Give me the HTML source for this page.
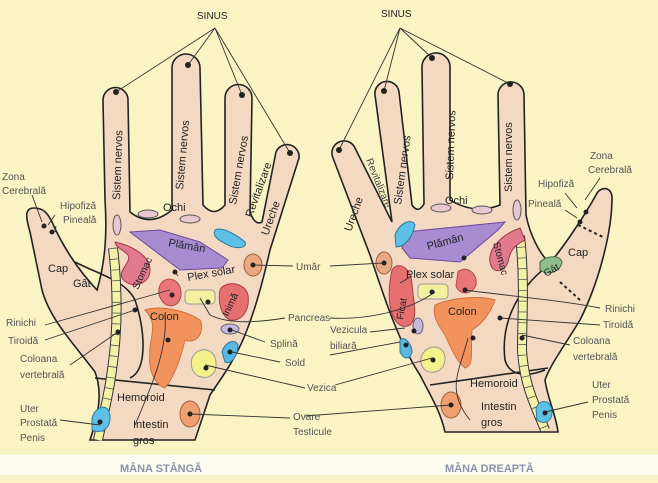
<!DOCTYPE html>
<html><head><meta charset="utf-8"><style>
html,body{margin:0;padding:0;background:#faf3c4;}
svg{display:block}
text{font-family:"Liberation Sans",sans-serif;}
</style></head><body>
<svg width="658" height="483" viewBox="0 0 658 483" xmlns="http://www.w3.org/2000/svg">
<rect width="658" height="483" fill="#faf3c4"/>
<rect x="0" y="455" width="658" height="20" fill="#fdfcf2"/>

<!-- LEFT HAND -->
<path d="M90,440 C100,410 102,390 95,372 C75,345 50,320 42,290 L30,232 C26,218 24,208 34,208 C44,208 48,214 52,222 C62,245 78,270 97,290 C106,260 107,230 105,200 L103,100 A12.5,12.5 0 0 1 128,100 L130,212 Q150,228 172,210 L172,68 A14,14 0 0 1 200,68 L203,205 Q214,218 225,205 L225,98 A13.5,13.5 0 0 1 252,98 L250,212 Q255,226 262,222 L276,152 A12,12 0 0 1 299,158 L270,250 C262,285 255,310 245,335 C235,360 220,380 210,395 L195,440 Z" fill="#f4d9c2" stroke="#222" stroke-width="1.6"/>
<path d="M75,262 C100,275 125,280 135,300 C145,330 148,370 130,378" fill="none" stroke="#222" stroke-width="1.6"/>
<path d="M95,378 L215,390" fill="none" stroke="#222" stroke-width="1.6"/>
<path d="M113,248 C118,290 118,330 112,370 C108,400 102,420 98,440" fill="none" stroke="#333" stroke-width="10"/>
<path d="M113,248 C118,290 118,330 112,370 C108,400 102,420 98,440" fill="none" stroke="#f3f1a8" stroke-width="8"/>
<path d="M113,248 C118,290 118,330 112,370 C108,400 102,420 98,440" fill="none" stroke="#555" stroke-width="8" stroke-dasharray="0.8 10"/>
<path d="M130,232 L160,230 L200,242 L228,260 L222,268 L180,270 Z" fill="#a98bd2" stroke="#6a4a9a"/>
<path d="M115,242 C130,245 150,255 150,270 C150,285 130,290 122,278 C118,270 132,262 128,255 C124,250 116,248 115,242Z" fill="#e07a8c" stroke="#a03a4a"/>
<path d="M160,285 C165,275 180,278 181,292 C182,305 170,310 163,302 C158,296 158,290 160,285Z" fill="#e8757a" stroke="#b04a4a"/>
<rect x="185" y="290" width="30" height="14" rx="4" fill="#f4f0a0" stroke="#999"/>
<path d="M220,290 C225,280 245,282 248,295 C250,310 242,322 230,320 C220,315 218,300 220,290Z" fill="#e67070" stroke="#a04040"/>
<path d="M145,310 C160,305 185,310 200,320 C205,330 198,345 185,340 C180,360 175,375 165,388 C155,385 148,370 150,355 C148,340 160,325 145,310Z" fill="#f2935e" stroke="#d07040"/>
<ellipse cx="230" cy="329" rx="9" ry="5" fill="#c8b8e0" stroke="#666"/>
<path d="M222,352 C225,342 235,338 238,345 C238,355 232,365 225,362Z" fill="#5ab8e0" stroke="#2a7aa0"/>
<path d="M192,358 C198,345 215,348 216,362 C217,375 208,380 198,376 C192,372 190,365 192,358Z" fill="#f4f08a" stroke="#999"/>
<path d="M215,230 C222,226 238,236 245,242 C248,248 236,250 226,244 C218,240 212,236 215,230Z" fill="#5ec0e6" stroke="#2a7aa0"/>
<ellipse cx="253" cy="265" rx="9" ry="11" fill="#e8a880" stroke="#a06040"/>
<ellipse cx="190" cy="414" rx="10" ry="13" fill="#eea070" stroke="#a06040"/>
<path d="M92,418 C96,405 110,402 110,418 C110,430 100,434 92,430Z" fill="#5ec0e6" stroke="#2a7aa0"/>
<ellipse cx="148" cy="214" rx="10" ry="4" fill="#e8c8d0" stroke="#555"/>
<ellipse cx="190" cy="219" rx="10" ry="4" fill="#e8c8d0" stroke="#555"/>
<ellipse cx="117" cy="225" rx="4" ry="10" fill="#e8c8d0" stroke="#555"/>

<!-- RIGHT HAND -->
<path d="M445,432 C440,410 430,395 420,375 C400,345 385,300 370,255 L333,158 A12,12 0 0 1 355,148 L392,222 L375,95 A12,12 0 0 1 399,92 L412,205 Q418,214 424,204 L422,68 A14,14 0 0 1 450,66 L450,200 Q475,215 500,205 L498,95 A13,13 0 0 1 524,95 L526,215 C530,235 540,255 550,263 C565,245 585,215 596,195 C600,186 612,186 612,198 C612,230 600,280 580,320 C565,345 550,365 545,380 C548,400 556,415 558,432 Z" fill="#f4d9c2" stroke="#222" stroke-width="1.6"/>
<path d="M553,262 C520,285 500,320 505,360 C510,378 530,376 545,370" fill="none" stroke="#222" stroke-width="1.6"/>
<path d="M430,385 L548,368" fill="none" stroke="#222" stroke-width="1.6"/>
<path d="M578,225 L605,238 M560,282 L580,300" fill="none" stroke="#222" stroke-width="2" stroke-dasharray="3 3"/>
<path d="M520,236 C525,280 522,320 522,350 C524,385 535,405 545,430" fill="none" stroke="#333" stroke-width="10"/>
<path d="M520,236 C525,280 522,320 522,350 C524,385 535,405 545,430" fill="none" stroke="#f3f1a8" stroke-width="8"/>
<path d="M520,236 C525,280 522,320 522,350 C524,385 535,405 545,430" fill="none" stroke="#555" stroke-width="8" stroke-dasharray="0.8 10"/>
<path d="M405,232 L505,222 L498,230 L460,262 L410,258 L402,248Z" fill="#a98bd2" stroke="#6a4a9a"/>
<path d="M520,228 C500,235 488,250 490,262 C492,275 505,272 508,262 C510,250 515,245 525,240Z" fill="#e07a8c" stroke="#a03a4a"/>
<path d="M458,272 C465,265 478,272 476,285 C472,295 460,296 456,286Z" fill="#e8757a" stroke="#b04a4a"/>
<rect x="418" y="284" width="30" height="15" rx="4" fill="#f4f0a0" stroke="#999"/>
<path d="M392,270 C398,260 412,268 412,285 C414,305 418,318 410,325 C400,330 392,320 390,305 C388,290 390,280 392,270Z" fill="#e67070" stroke="#a04040"/>
<path d="M435,305 C450,298 480,295 495,300 C490,315 480,325 472,330 C470,350 475,365 465,368 C455,360 450,345 445,335 C438,325 432,315 435,305Z" fill="#f2935e" stroke="#d07040"/>
<ellipse cx="418" cy="326" rx="5" ry="8" fill="#c8b8e0" stroke="#666"/>
<path d="M400,340 C405,335 412,345 412,352 C410,360 404,360 400,352Z" fill="#5ab8e0" stroke="#2a7aa0"/>
<path d="M422,355 C428,343 445,345 445,358 C445,372 432,375 425,370 C420,365 420,360 422,355Z" fill="#f4f08a" stroke="#999"/>
<path d="M395,235 C400,222 412,218 415,225 C412,238 405,247 396,247Z" fill="#5ec0e6" stroke="#2a7aa0"/>
<ellipse cx="384" cy="263" rx="8" ry="11" fill="#e8a880" stroke="#a06040"/>
<ellipse cx="451" cy="405" rx="10" ry="13" fill="#eea070" stroke="#a06040"/>
<path d="M536,408 C540,398 552,400 552,412 C552,422 544,425 537,420Z" fill="#5ec0e6" stroke="#2a7aa0"/>
<path d="M540,262 C548,255 560,255 562,262 C560,272 548,276 540,270Z" fill="#8fbf8f" stroke="#446644"/>
<ellipse cx="441" cy="208" rx="10" ry="4" fill="#e8c8d0" stroke="#555"/>
<ellipse cx="482" cy="210" rx="10" ry="4" fill="#e8c8d0" stroke="#555"/>
<ellipse cx="517" cy="210" rx="4" ry="10" fill="#e8c8d0" stroke="#555"/>

<g stroke="#333" stroke-width="0.9" fill="none">
<path d="M215,28 L116,92 M215,28 L188,65 M215,28 L242,95 M215,28 L290,153"/>
<path d="M400,28 L339,150 M400,28 L384,91 M400,28 L432,58 M400,28 L510,84"/>
<path d="M253,265 L293,266 M175,272 L178,276"/>
<path d="M170,290 L45,325 M135,310 L45,340 M118,332 L70,365 M100,425 L60,420"/>
<path d="M200,298 L210,315 C230,325 260,322 285,318"/>
<path d="M232,330 L265,342 M232,352 L280,362 M205,365 L305,388 M190,414 L290,418"/>
<path d="M165,315 C168,350 150,390 135,425"/>
<path d="M32,195 L42,222 M55,215 L48,225 M56,226 L55,232"/>
<path d="M384,263 L330,266 M412,276 L400,283 M330,318 C370,320 410,310 435,292 M405,328 L370,332 M400,342 L330,355 M432,358 L335,385 M451,405 L305,416"/>
<path d="M465,290 C500,295 560,300 600,308 M500,318 L600,325 M522,335 L570,345 M545,412 L588,402 M468,338 C460,370 445,390 470,420"/>
<path d="M600,178 L585,200 M565,193 L577,208 M565,210 L577,218"/>
</g>
<g fill="#222">
<circle cx="116" cy="92" r="3"/><circle cx="188" cy="65" r="3"/><circle cx="242" cy="95" r="3"/><circle cx="290" cy="153" r="3"/>
<circle cx="339" cy="150" r="3"/><circle cx="384" cy="91" r="3"/><circle cx="432" cy="58" r="3"/><circle cx="510" cy="84" r="3"/>
<circle cx="44" cy="226" r="2.5"/><circle cx="52" cy="232" r="2.5"/><circle cx="586" cy="212" r="2.5"/><circle cx="580" cy="222" r="2.5"/>
<circle cx="175" cy="272" r="2.5"/><circle cx="172" cy="295" r="2.5"/><circle cx="208" cy="302" r="2.5"/><circle cx="253" cy="265" r="2.5"/>
<circle cx="135" cy="310" r="2.5"/><circle cx="118" cy="332" r="2.5"/><circle cx="168" cy="340" r="2.5"/><circle cx="230" cy="330" r="2.5"/><circle cx="230" cy="352" r="2.5"/><circle cx="206" cy="368" r="2.5"/><circle cx="190" cy="414" r="2.5"/><circle cx="100" cy="422" r="2.5"/>
<circle cx="384" cy="263" r="2.5"/><circle cx="465" cy="290" r="2.5"/><circle cx="432" cy="292" r="2.5"/><circle cx="464" cy="258" r="2.5"/><circle cx="414" cy="331" r="2.5"/><circle cx="406" cy="345" r="2.5"/><circle cx="433" cy="360" r="2.5"/><circle cx="451" cy="405" r="2.5"/><circle cx="500" cy="318" r="2.5"/><circle cx="522" cy="338" r="2.5"/><circle cx="545" cy="413" r="2.5"/><circle cx="473" cy="338" r="2.5"/>
</g>

<g font-size="10" fill="#222">
<text x="197" y="19">SINUS</text><text x="381" y="17">SINUS</text>
<text transform="translate(120,200) rotate(-88)" font-size="11">Sistem nervos</text>
<text transform="translate(183,190) rotate(-85)" font-size="11">Sistem nervos</text>
<text transform="translate(236,205) rotate(-80)" font-size="11">Sistem nervos</text>
<text transform="translate(252,218) rotate(-70)" font-size="11">Revitalizare</text>
<text transform="translate(268,236) rotate(-70)" font-size="11">Ureche</text>
<text x="163" y="211" font-size="11">Ochi</text>
<text transform="translate(168,246) rotate(10)" font-size="11">Plămân</text>
<text transform="translate(138,290) rotate(-65)" font-size="10">Stomac</text>
<text transform="translate(188,281) rotate(-10)" font-size="11">Plex solar</text>
<text transform="translate(228,317) rotate(-65)" font-size="10">Inimă</text>
<text x="150" y="320" font-size="11">Colon</text>
<text x="48" y="272" font-size="11">Cap</text><text x="73" y="287" font-size="11">Gât</text>
<text x="117" y="401" font-size="11">Hemoroid</text>
<text x="133" y="428" font-size="11">Intestin</text><text x="133" y="444" font-size="11">gros</text>
<g fill="#555">
<text x="2" y="180">Zona</text><text x="2" y="194">Cerebrală</text>
<text x="60" y="209">Hipofiză</text><text x="63" y="223">Pineală</text>
<text x="6" y="326">Rinichi</text><text x="8" y="344">Tiroidă</text>
<text x="20" y="362">Coloana</text><text x="20" y="378">vertebrală</text>
<text x="20" y="412">Uter</text><text x="20" y="426">Prostată</text><text x="20" y="441">Penis</text>
<text x="296" y="270">Umăr</text><text x="288" y="321">Pancreas</text>
<text x="270" y="347">Splină</text><text x="285" y="366">Sold</text>
<text x="307" y="391">Vezica</text>
<text x="293" y="420">Ovare</text><text x="293" y="435">Testicule</text>
<text x="330" y="333">Vezicula</text><text x="330" y="349">biliară</text>
<text x="590" y="159">Zona</text><text x="588" y="173">Cerebrală</text>
<text x="538" y="187">Hipofiză</text><text x="528" y="207">Pineală</text>
<text x="605" y="312">Rinichi</text><text x="603" y="328">Tiroidă</text>
<text x="573" y="344">Coloana</text><text x="573" y="360">vertebrală</text>
<text x="592" y="388">Uter</text><text x="592" y="403">Prostată</text><text x="592" y="418">Penis</text>
</g>
<text transform="translate(351,232) rotate(-70)" font-size="11">Ureche</text>
<text transform="translate(366,160) rotate(68)" font-size="10" fill="#444">Revitalizare</text>
<text transform="translate(401,205) rotate(-82)" font-size="11">Sistem nervos</text>
<text transform="translate(453,180) rotate(-88)" font-size="11">Sistem nervos</text>
<text transform="translate(512,192) rotate(-90)" font-size="11">Sistem nervos</text>
<text x="445" y="204" font-size="11">Ochi</text>
<text transform="translate(428,250) rotate(-15)" font-size="11">Plămân</text>
<text transform="translate(493,243) rotate(75)" font-size="10">Stomac</text>
<text x="406" y="278" font-size="11">Plex solar</text>
<text transform="translate(403,320) rotate(-80)" font-size="10">Ficat</text>
<text x="448" y="315" font-size="11">Colon</text>
<text x="568" y="256" font-size="11">Cap</text>
<text transform="translate(546,277) rotate(-30)" font-size="10">Gât</text>
<text x="470" y="387" font-size="11">Hemoroid</text>
<text x="481" y="410" font-size="11">Intestin</text><text x="481" y="426" font-size="11">gros</text>
</g>
<text x="120" y="472" font-size="11" font-weight="bold" fill="#8a93aa">MÂNA STÂNGĂ</text>
<text x="445" y="472" font-size="11" font-weight="bold" fill="#8a93aa">MÂNA DREAPTĂ</text>
</svg>
</body></html>
